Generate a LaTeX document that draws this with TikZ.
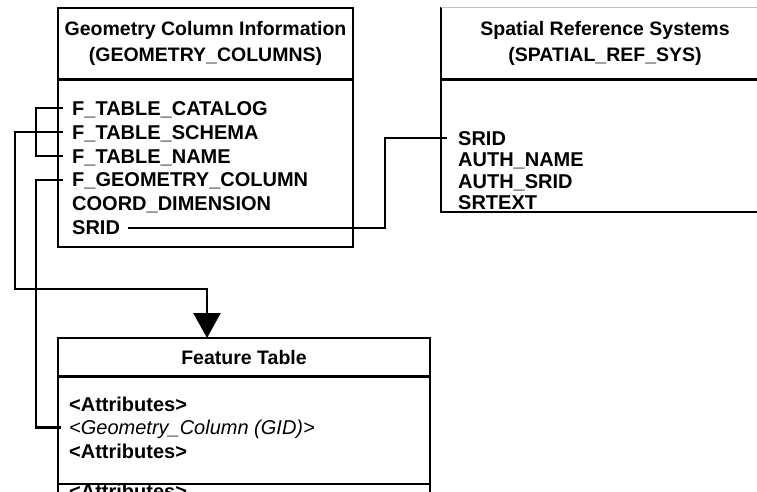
\documentclass[tikz,border=0pt]{standalone}
\usepackage{fontspec}
\setmainfont{Liberation Sans}
\usetikzlibrary{arrows.meta,positioning}

\begin{document}
\begin{tikzpicture}[x=1pt, y=-1pt, node distance=9.5pt]
\tikzset{
    mytable/.style={rectangle, draw=black, line width=2.8pt, inner sep=0pt, outer sep=0pt, anchor=north west},
    myhead/.style={font=\fontsize{19.5}{26}\selectfont\bfseries, align=center, inner sep=0pt, anchor=north},
    myrow/.style={font=\fontsize{20}{23.5}\selectfont\bfseries, inner sep=0pt, text height=14pt, text depth=0pt, anchor=north west},
    myline/.style={line width=2.8pt},
    mylink/.style={line width=2.3pt},
    myarrow/.style={mylink, -{Triangle[width=27pt, length=25pt]}}
}
\useasboundingbox (0,0) rectangle (757,491);
\clip (0,0) rectangle (757,491);

\node[mytable, minimum width=295pt, minimum height=239pt] (gc) at (58,8) {};
\node[myhead, minimum height=71pt] (gchead) at (gc.north) {Geometry Column Information\\(GEOMETRY\_COLUMNS)};
\draw[myline] (gc.west |- gchead.south) -- (gc.east |- gchead.south);
\node[myrow] (catalog) at (72,101) {F\_TABLE\_CATALOG};
\node[below=of catalog.south west, myrow] (schema) {F\_TABLE\_SCHEMA};
\node[below=of schema.south west, myrow] (tname) {F\_TABLE\_NAME};
\node[below=of tname.south west, myrow] (geomcol) {F\_GEOMETRY\_COLUMN};
\node[below=of geomcol.south west, myrow] (coorddim) {COORD\_DIMENSION};
\node[below=of coorddim.south west, myrow] (srid) {SRID};

\node[mytable, draw=none, minimum width=328pt, minimum height=205pt] (srs) at (441,7) {};
\draw[myline] (srs.north west) -- (srs.south west) -- (srs.south east);
\draw[gray!50, thin] (srs.north west) -- (srs.north east);
% the top edge of this table is only a faint line
\node[myhead, minimum height=72pt] (srshead) at (srs.north) {Spatial Reference Systems\\(SPATIAL\_REF\_SYS)};
\draw[myline] (srs.west |- srshead.south) -- (srs.east |- srshead.south);
\node[myrow] (ssrid) at (458,131) {SRID};
\node[below=7pt of ssrid.south west, myrow] (authname) {AUTH\_NAME};
\node[below=7pt of authname.south west, myrow] (authsrid) {AUTH\_SRID};
\node[below=7pt of authsrid.south west, myrow] (srtext) {SRTEXT};

\node[mytable, minimum width=372pt, minimum height=170pt] (ft) at (58,338) {};
\node[myhead, minimum height=38pt] (fthead) at (ft.north) {Feature Table};
\draw[myline] (ft.west |- fthead.south) -- (ft.east |- fthead.south);
\node[myrow] (attr1) at (69,397) {<Attributes>};
\node[below=9pt of attr1.south west, myrow, font=\fontsize{20}{23.5}\selectfont\itshape] (gid) {<Geometry\_Column (GID)>};
\node[below=9pt of gid.south west, myrow] (attr2) {<Attributes>};
\node[myrow] (attr3) at (69,484) {<Attributes>};
\draw[myline] (ft.west |- attr3.north) -- (ft.east |- attr3.north);
% the last row is cut off by the bottom of the picture

\coordinate (drop) at (207,289);
\coordinate (jog) at (385,0);
\draw[mylink] ([xshift=-9pt]catalog.west) -- ++(-27,0) |- ([xshift=-9pt]tname.west);
\draw[myarrow] ([xshift=-9pt]schema.west) -- ++(-48,0) |- (drop) -- (drop |- ft.north);
\draw[mylink] ([xshift=-9pt]geomcol.west) -- ++(-27,0) |- ([xshift=-8pt]gid.west);
\draw[mylink] ([xshift=8pt]srid.east) -| (jog |- ssrid.west) -- ([xshift=-11pt]ssrid.west);

\end{tikzpicture}
\end{document}
